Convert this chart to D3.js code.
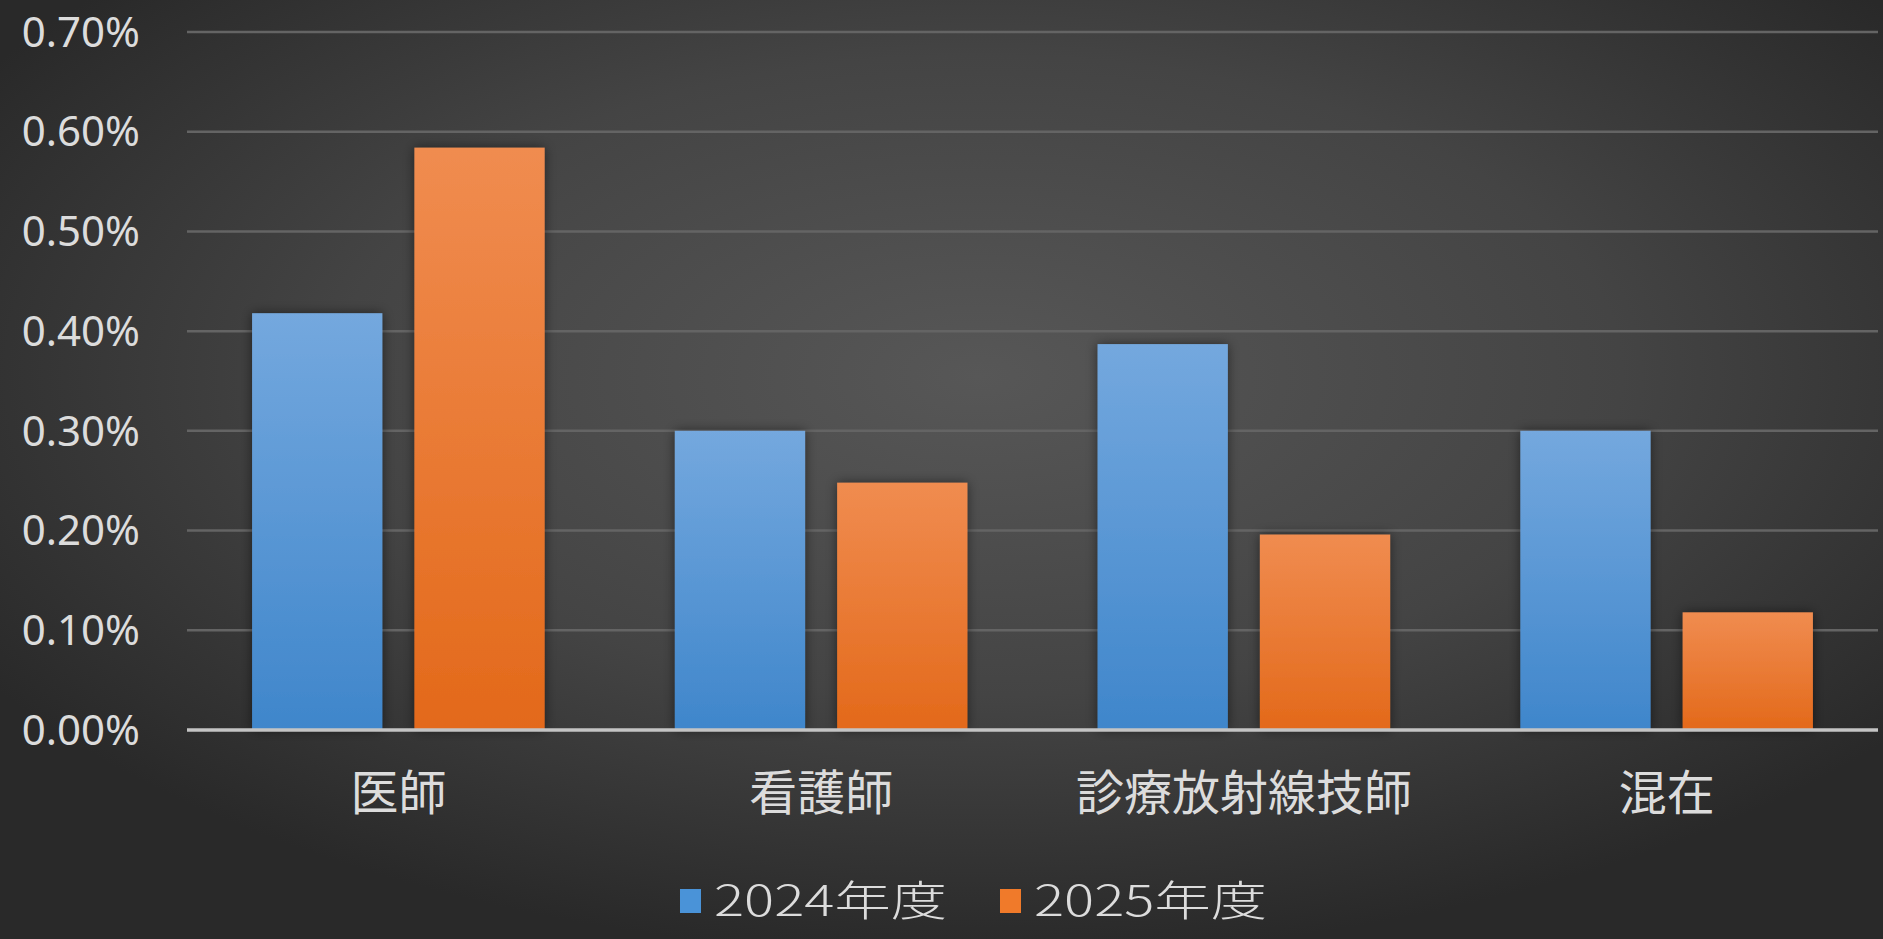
<!DOCTYPE html>
<html lang="ja">
<head>
<meta charset="utf-8">
<script src="https://cdn.jsdelivr.net/npm/d3@7"></script>
<style>
  html, body { margin: 0; padding: 0; background: #2b2b2b; overflow: hidden; }
  svg { display: block; }
  text { font-family: "Noto Sans CJK JP", "Noto Sans", sans-serif; fill: #dcdcdc; }
</style>
</head>
<body>
<svg id="chart" width="1883" height="939"></svg>
<script>
// Job categories along the x axis
const categories = ["医師", "看護師", "診療放射線技師", "混在"];
// Series names shown in the legend
const seriesNames = ["2024年度", "2025年度"];
// Rates per category (fractions, displayed as percentages)
const values2024 = [0.00418, 0.00300, 0.00387, 0.00300];
const values2025 = [0.00584, 0.00248, 0.00196, 0.00118];
// Y axis ticks
const yTicks = [0, 0.001, 0.002, 0.003, 0.004, 0.005, 0.006, 0.007];

const W = 1883, H = 939;
const margin = { left: 187, right: 5, top: 32, bottom: 209 };
const plotW = W - margin.left - margin.right;
const baseY = H - margin.bottom;

const svg = d3.select("#chart");
const defs = svg.append("defs");

// Dark radial backdrop
const bg = defs.append("radialGradient").attr("id", "bgGrad")
  .attr("cx", "0.52").attr("cy", "0.40").attr("r", "0.62").attr("fx", "0.52").attr("fy", "0.40");
bg.append("stop").attr("offset", "0").attr("stop-color", "#575757");
bg.append("stop").attr("offset", "0.55").attr("stop-color", "#444444");
bg.append("stop").attr("offset", "1").attr("stop-color", "#292929");
svg.append("rect").attr("width", W).attr("height", H).attr("fill", "url(#bgGrad)");

// Vertical gradients for the bar fills
const fills = [
  { id: "blueGrad", top: "#74a8de", bottom: "#3f86cb" },
  { id: "orangeGrad", top: "#f08c50", bottom: "#e3691a" }
];
fills.forEach(f => {
  const g = defs.append("linearGradient").attr("id", f.id)
    .attr("x1", 0).attr("y1", 0).attr("x2", 0).attr("y2", 1);
  g.append("stop").attr("offset", "0").attr("stop-color", f.top);
  g.append("stop").attr("offset", "1").attr("stop-color", f.bottom);
});
const legendColors = ["#4a93d8", "#f07a2a"];

// Soft dark shadow around bars
const sh = defs.append("filter").attr("id", "barShadow")
  .attr("x", "-20%").attr("y", "-10%").attr("width", "140%").attr("height", "120%");
sh.append("feDropShadow").attr("dx", 0).attr("dy", 0).attr("stdDeviation", 6)
  .attr("flood-color", "#000").attr("flood-opacity", 0.5);

const y = d3.scaleLinear().domain([0, 0.007]).range([baseY, margin.top]);
const x0 = d3.scaleBand().domain(categories).range([margin.left, margin.left + plotW]).padding(0);
const x1 = d3.scaleBand().domain(seriesNames).range([0, x0.bandwidth()])
  .paddingInner(0.1975).paddingOuter(0.401);

// Gridlines
svg.append("g").selectAll("line").data(yTicks.filter(t => t > 0)).join("line")
  .attr("x1", margin.left).attr("x2", margin.left + plotW)
  .attr("y1", d => y(d)).attr("y2", d => y(d))
  .attr("stroke", "#646464").attr("stroke-width", 2.5);

// Y axis labels
const yAxis = d3.axisLeft(y).tickValues(yTicks).tickFormat(d3.format(".2%")).tickSize(0).tickPadding(0);
const ya = svg.append("g").attr("transform", "translate(140,0)").call(yAxis);
ya.select(".domain").remove();
ya.selectAll("text").attr("font-size", 42).attr("fill", "#dcdcdc")
  .style("font-family", "'Noto Sans', 'Open Sans', sans-serif").attr("dy", "0.34em");

// Bars
const rows = categories.map((c, i) => ({ cat: c, vals: [values2024[i], values2025[i]] }));
const groups = svg.append("g").selectAll("g").data(rows).join("g")
  .attr("transform", d => `translate(${x0(d.cat)},0)`);
groups.selectAll("rect").data(d => d.vals.map((v, k) => ({ v, k }))).join("rect")
  .attr("x", d => x1(seriesNames[d.k]))
  .attr("width", x1.bandwidth())
  .attr("y", d => y(d.v))
  .attr("height", d => baseY - y(d.v))
  .attr("fill", d => `url(#${fills[d.k].id})`)
  .attr("filter", "url(#barShadow)");

// Baseline
svg.append("line").attr("x1", margin.left).attr("x2", margin.left + plotW)
  .attr("y1", baseY).attr("y2", baseY).attr("stroke", "#c4c4c4").attr("stroke-width", 3.5);

// Category labels
const xAxis = d3.axisBottom(x0).tickSize(0).tickPadding(0);
const xa = svg.append("g").attr("transform", `translate(0,${baseY + 63})`).call(xAxis);
xa.select(".domain").remove();
xa.selectAll("text").attr("font-size", 48).attr("fill", "#dcdcdc")
  .style("font-family", "'Noto Sans CJK JP', sans-serif").attr("dy", "0.35em");

// Legend: wide-set series names next to colour swatches
const legendX = [680, 1000];
const legendTextWidth = 233;
const legend = svg.append("g").selectAll("g").data(seriesNames).join("g")
  .attr("transform", (d, i) => `translate(${legendX[i]},901)`);
legend.append("rect").attr("x", 0).attr("y", -12).attr("width", 21).attr("height", 24)
  .attr("fill", (d, i) => legendColors[i]);
legend.append("text").attr("dy", "0.36em").attr("font-size", 42)
  .style("font-weight", 300)
  .text(d => d)
  .each(function () {
    const w = this.getComputedTextLength();
    const sx = legendTextWidth / w;
    d3.select(this).attr("transform", `translate(34,0) scale(${sx},1)`);
  });
</script>
</body>
</html>
